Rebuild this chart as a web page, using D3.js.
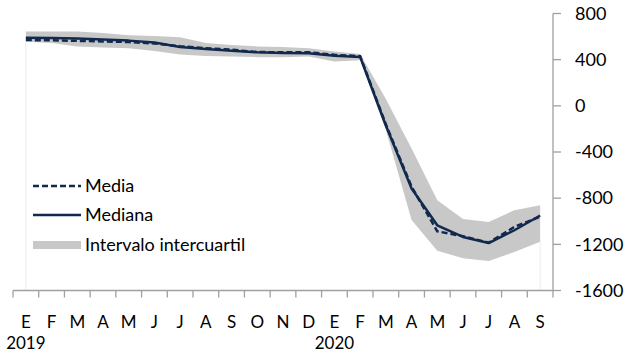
<!DOCTYPE html>
<html><head><meta charset="utf-8">
<script src="https://cdn.jsdelivr.net/npm/d3@7"></script>
<style>body{margin:0;background:#fff}svg{display:block}text{font-family:Lato,"Open Sans",sans-serif;fill:#000}</style>
</head><body>
<svg id="c" width="624" height="354"></svg>
<script>
const months = ["E","F","M","A","M","J","J","A","S","O","N","D","E","F","M","A","M","J","J","A","S"];
const years = [{label:"2019", index:0},{label:"2020", index:12}];
const mediana = [590,588,583,575,565,548,510,492,478,464,458,456,434,424,-170,-716,-1035,-1136,-1189,-1078,-950];
const media   = [570,568,563,558,553,540,516,500,486,466,464,464,442,430,-160,-700,-1087,-1130,-1185,-1049,-960];
const q1      = [555,545,515,505,500,475,445,432,428,422,420,428,385,394,-210,-990,-1255,-1320,-1345,-1267,-1178];
const q3      = [645,645,645,630,612,605,595,545,528,515,510,500,470,450,60,-370,-817,-980,-1006,-904,-862];
const yTicks = [800,400,0,-400,-800,-1200,-1600];
const legendLabels = ["Media","Mediana","Intervalo intercuartil"];

const svg = d3.select("#c");
const L = 13, R = 553, T = 13.5, B = 290.5;
const x = d3.scaleBand().domain(d3.range(months.length)).range([L, R]).padding(0);
const cx = i => x(i) + x.bandwidth()/2;
const y = d3.scaleLinear().domain([-1600, 800]).range([B, T]);
const navy = "#10294d", grey = "#c8c8c8", axisC = "#a0a0a0";
const fs = 18, fsx = 17;

// faint edges of band base
[0, months.length-1].forEach(i => {
  svg.append("line").attr("x1", cx(i)).attr("x2", cx(i)).attr("y1", y(q1[i])).attr("y2", B)
    .attr("stroke", "#ececec").attr("stroke-width", 1);
});

// band
const area = d3.area().x((d,i)=>cx(i)).y0((d,i)=>y(q1[i])).y1((d,i)=>y(q3[i]));
svg.append("path").datum(q1).attr("d", area).attr("fill", grey);

// lines
const line = d3.line().x((d,i)=>cx(i)).y(d=>y(d));
svg.append("path").datum(mediana).attr("d", line).attr("fill","none").attr("stroke", navy).attr("stroke-width", 2.5).attr("stroke-linejoin","round");
svg.append("path").datum(media).attr("d", line).attr("fill","none").attr("stroke", navy).attr("stroke-width", 2.5).attr("stroke-dasharray","6,3");

// x axis
const gx = svg.append("g");
gx.append("line").attr("x1", L).attr("x2", R).attr("y1", B).attr("y2", B).attr("stroke", axisC).attr("stroke-width", 1.3);
d3.range(months.length+1).forEach(i => {
  const xx = L + i * x.bandwidth();
  gx.append("line").attr("x1", xx).attr("x2", xx).attr("y1", B).attr("y2", B+7).attr("stroke", axisC).attr("stroke-width", 1.3);
});
months.forEach((m,i) => {
  gx.append("text").attr("x", cx(i)).attr("y", 328).attr("text-anchor","middle").attr("font-size", fsx).text(m);
});
years.forEach(d => {
  gx.append("text").attr("x", cx(d.index)).attr("y", 349).attr("text-anchor","middle").attr("font-size", fsx).text(d.label);
});

// y axis (right)
const gy = svg.append("g");
gy.append("line").attr("x1", R).attr("x2", R).attr("y1", T).attr("y2", B).attr("stroke", axisC).attr("stroke-width", 1.3);
yTicks.forEach(v => {
  gy.append("line").attr("x1", R).attr("x2", R+8).attr("y1", y(v)).attr("y2", y(v)).attr("stroke", axisC).attr("stroke-width", 1.3);
  gy.append("text").attr("x", 575).attr("y", y(v)).attr("dy","0.35em").attr("font-size", fs).text(v);
});

// legend
const lg = svg.append("g");
const ly = [186, 215, 245];
lg.append("line").attr("x1",33).attr("x2",81).attr("y1",ly[0]).attr("y2",ly[0]).attr("stroke",navy).attr("stroke-width",2.5).attr("stroke-dasharray","6,3");
lg.append("line").attr("x1",33).attr("x2",81).attr("y1",ly[1]).attr("y2",ly[1]).attr("stroke",navy).attr("stroke-width",2.5);
lg.append("rect").attr("x",33).attr("y",ly[2]-4).attr("width",48).attr("height",8).attr("fill",grey);
legendLabels.forEach((t,i) => {
  lg.append("text").attr("x",85).attr("y",ly[i]).attr("dy","0.35em").attr("font-size",fs).text(t);
});
</script>
</body></html>
